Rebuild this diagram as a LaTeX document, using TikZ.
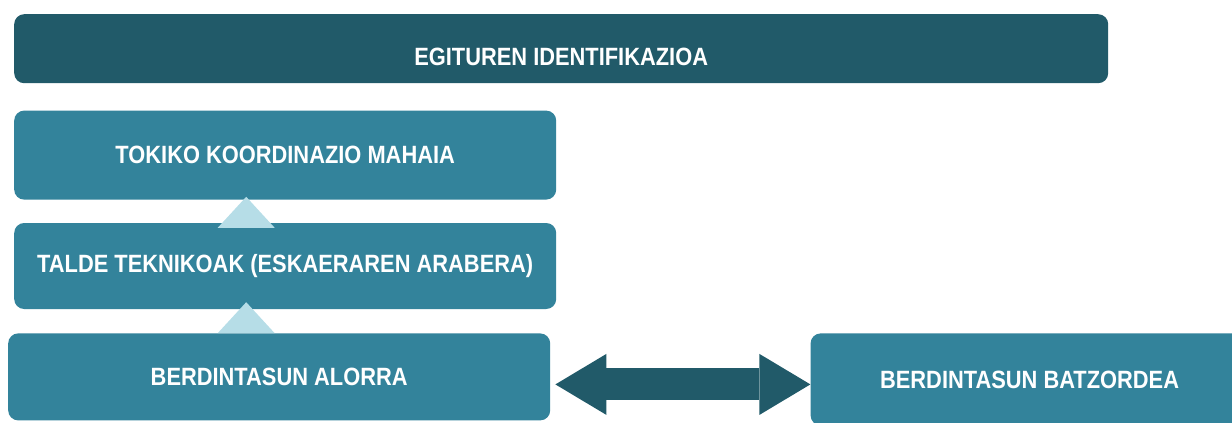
\documentclass[tikz,border=0pt]{standalone}
\usepackage{fontspec}
\usepackage{xcolor}
\usepackage{tikz}
\usetikzlibrary{calc}
\usetikzlibrary{positioning}
\usetikzlibrary{arrows.meta}

\newfontfamily\boxfont[FakeStretch=0.874]{Liberation Sans}
\definecolor{darkteal}{RGB}{33,90,105}
\definecolor{boxteal}{RGB}{51,131,155}
\definecolor{paleblue}{RGB}{182,221,231}

\begin{document}
\begin{tikzpicture}[font=\boxfont\bfseries\fontsize{25}{29}\selectfont,
      bar style/.style={rectangle,rounded corners=10pt,fill=darkteal,text=white,
        minimum width=1094pt,minimum height=69pt,inner sep=0pt,align=center},
      box style/.style={rectangle,rounded corners=10pt,fill=boxteal,text=white,
        minimum width=542pt,minimum height=87pt,inner sep=0pt,align=center},
      tri style/.style={fill=paleblue},
      link style/.style={draw=darkteal,line width=32pt,
        {Triangle[length=51pt,width=61pt,line width=0pt]}-{Triangle[length=51pt,width=61pt,line width=0pt]}}
      ]
      \useasboundingbox (0,0) rectangle (1232pt,-423pt);

      \node[bar style, anchor=north west] (egit) at (14pt,-14pt) {\raisebox{-8pt}[\height][\depth]{EGITUREN IDENTIFIKAZIOA}};

      \node[box style, minimum height=89pt, below right=27pt and 0pt of egit.south west] (tokiko) {TOKIKO KOORDINAZIO MAHAIA};
      \node[box style, minimum height=86pt, below right=23pt and 0pt of tokiko.south west] (talde) {TALDE TEKNIKOAK (ESKAERAREN ARABERA)};
      \node[box style, below right=24pt and -6pt of talde.south west] (alorra) {BERDINTASUN ALORRA};

      \node[box style, minimum width=438pt, minimum height=92pt, below right=0pt and 260pt of alorra.north east] (batz) {BERDINTASUN BATZORDEA};

      % light triangles between the stacked boxes
      \foreach \hi/\dy in {tokiko/3, talde/7}
        \fill[tri style] ([xshift=-39pt,yshift=\dy pt]\hi.south) -- ++(-28.5pt,-31pt) -- ++(57pt,0pt) -- cycle;

      \draw[link style] ([xshift=5pt,yshift=-7.5pt]alorra.east) -- ([yshift=-7.5pt]alorra.east -| batz.west);

    \end{tikzpicture}
\end{document}
